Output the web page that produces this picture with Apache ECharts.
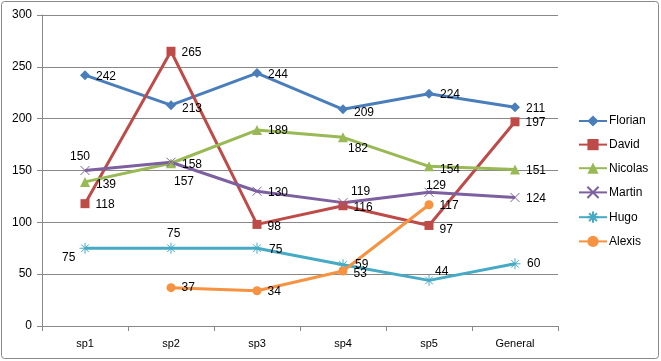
<!DOCTYPE html>
<html><head><meta charset="utf-8">
<script src="https://cdn.jsdelivr.net/npm/echarts@6/dist/echarts.min.js"></script>
<style>html,body{margin:0;padding:0;background:#fff}#c{width:661px;height:361px}</style>
</head><body><div id="c"></div>
<script>
var categories = ['sp1','sp2','sp3','sp4','sp5','General'];
var florian = [242, 213, 244, 209, 224, 211];
var david   = [118, 265, 98, 116, 97, 197];
var nicolas = [139, 157, 189, 182, 154, 151];
var martin  = [150, 158, 130, 119, 129, 124];
var hugo    = [75, 75, 75, 59, 44, 60];
var alexis  = [null, 37, 34, 53, 117, null];
var yTicks = [0, 50, 100, 150, 200, 250, 300];

// label offsets (style only)
var offFlorian = [[0,2],[0,3],[0,2],[0,3],[0,1],[0,1]];
var offDavid   = [[0,1],[0,1],[0,2],[0,2],[0,4],[0,1]];
var offNicolas = [[0,3],[-8,18],[0,1],[-6,11],[0,3],[0,1]];
var offMartin  = [[-26,-14],[0,2],[0,1],[-3,-11],[-14,-7],[0,1]];
var offHugo    = [[-35,9],[-16,-15],[0,1],[0,0],[-6,-9],[0,0]];
var offAlexis  = [[0,0],[0,0],[0,1],[0,3],[0,1],[0,0]];

var xPath = 'path://M0,0L10,10M10,0L0,10';
var starPath = 'path://M5,0L5,10M0,5L10,5M1.5,1.5L8.5,8.5M8.5,1.5L1.5,8.5';

function mk(name, vals, offs, color, symbol, size, stroke) {
  return {
    name: name, type: 'line', data: vals.map(function(v, i){
      return { value: v, label: { offset: offs[i] } };
    }),
    symbol: symbol, symbolSize: size, showAllSymbol: true,
    connectNulls: false,
    lineStyle: { color: color, width: 3 },
    itemStyle: stroke ? { color: 'rgba(0,0,0,0)', borderColor: color, borderWidth: 1 } : { color: color, borderWidth: 0 },
    label: { show: true, position: 'right', distance: 6, color: '#000', fontFamily: 'Liberation Sans', fontSize: 12 },
    emphasis: { disabled: true },
    animation: false
  };
}

var chart = echarts.init(document.getElementById('c'));
chart.setOption({
  animation: false,
  backgroundColor: '#fff',
  color: ['#4A7EBB','#BE4B48','#98B954','#7D60A0','#46AAC5','#F69240'],
  graphic: [{ type: 'rect', shape: { x: 1.5, y: 1.5, width: 657, height: 357, r: 3 }, style: { fill: 'none', stroke: '#888', lineWidth: 1 }, silent: true }],
  grid: { left: 42, right: 103, top: 15, bottom: 35 },
  legend: {
    orient: 'vertical', left: 573, top: 110, itemWidth: 28, itemHeight: 14, itemGap: 11.6,
    textStyle: { fontFamily: 'Liberation Sans', fontSize: 12, color: '#000', padding: [0,0,0,-3] },
    data: ['Florian','David','Nicolas','Martin','Hugo','Alexis']
  },
  xAxis: {
    type: 'category', data: categories, boundaryGap: true,
    axisLine: { lineStyle: { color: '#888' } },
    axisTick: { show: true, length: 5, alignWithLabel: false, lineStyle: { color: '#888' } },
    axisLabel: { color: '#000', fontFamily: 'Liberation Sans', fontSize: 11, margin: 12 }
  },
  yAxis: {
    type: 'value', min: yTicks[0], max: yTicks[yTicks.length-1], interval: 50,
    axisLine: { show: true, lineStyle: { color: '#888' } },
    axisTick: { show: true, length: 5, lineStyle: { color: '#888' } },
    splitLine: { lineStyle: { color: '#888' } },
    axisLabel: { color: '#000', fontFamily: 'Liberation Sans', fontSize: 12, margin: 10 }
  },
  series: [
    mk('Florian', florian, offFlorian, '#4A7EBB', 'diamond', 10, false),
    mk('David', david, offDavid, '#BE4B48', 'rect', 9, false),
    mk('Nicolas', nicolas, offNicolas, '#98B954', 'triangle', 10, false),
    mk('Martin', martin, offMartin, '#7D60A0', xPath, 9, true),
    mk('Hugo', hugo, offHugo, '#46AAC5', starPath, 11, true),
    mk('Alexis', alexis, offAlexis, '#F69240', 'circle', 9, false)
  ]
});
</script></body></html>
